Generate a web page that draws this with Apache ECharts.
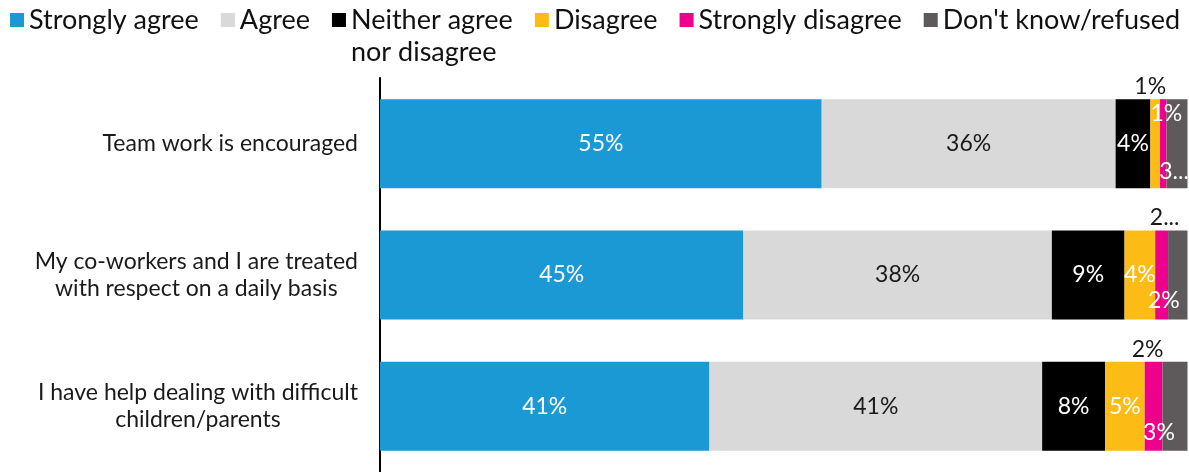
<!DOCTYPE html>
<html>
<head>
<meta charset="utf-8">
<script src="https://cdn.jsdelivr.net/npm/echarts@6/dist/echarts.min.js"></script>
<style>
  html, body { margin: 0; padding: 0; background: #fff; }
  #chart { width: 1189px; height: 472px; }
</style>
</head>
<body>
<div id="chart"></div>
<script>
// Survey statements (top to bottom)
const categories = [
  'Team work is encouraged',
  'My co-workers and I are treated\nwith respect on a daily basis',
  'I have help dealing with difficult\nchildren/parents'
];

// Response options, in stacking order
const responseNames = [
  'Strongly agree',
  'Agree',
  'Neither agree nor disagree',
  'Disagree',
  'Strongly disagree',
  "Don't know/refused"
];

// Share of respondents (%) per statement
const stronglyAgree    = [54.7, 45.0, 40.8];
const agree            = [36.4, 38.2, 41.2];
const neither          = [4.3, 9.0, 7.8];
const disagree         = [1.2, 3.8, 4.9];
const stronglyDisagree = [0.8, 1.6, 2.2];
const dontKnow         = [2.6, 2.4, 3.1];

const seriesValues = [stronglyAgree, agree, neither, disagree, stronglyDisagree, dontKnow];

const colors = ['#1A99D5', '#D9D9D9', '#000000', '#FDBC15', '#EC008C', '#5E5A5B'];
const insideLabelColors = ['#ffffff', '#1a1a1a', '#ffffff', '#ffffff', '#ffffff', '#ffffff'];

const FONT = 'Lato, "Noto Sans", sans-serif';

// Placement of the small segment labels that do not fit in the middle
// key: seriesIndex-rowIndex
const labelPlacement = {
  '3-0': { position: 'top', distance: 1, offset: [-5, 0], color: '#1a1a1a' },
  '4-0': { position: 'insideTop', distance: 3, offset: [3, 0] },
  '5-0': { position: 'insideBottom', distance: 5, offset: [-3, 0], cut: true },
  '4-1': { position: 'top', distance: 1, offset: [3, 0], color: '#1a1a1a', cut: true },
  '5-1': { position: 'insideBottom', distance: 7, offset: [-14, 0] },
  '4-2': { position: 'top', distance: 1, offset: [-6, 0], color: '#1a1a1a' },
  '5-2': { position: 'insideBottom', distance: 7, offset: [-16, 0] }
};

const series = responseNames.map(function (name, si) {
  return {
    name: name,
    type: 'bar',
    stack: 'total',
    barWidth: 89,
    itemStyle: { color: colors[si] },
    emphasis: { disabled: true },
    label: {
      show: true,
      position: 'inside',
      color: insideLabelColors[si],
      fontFamily: FONT,
      fontSize: 23,
      formatter: function (p) {
        const pl = labelPlacement[si + '-' + p.dataIndex];
        const n = Math.round(p.value);
        return pl && pl.cut ? n + '...' : n + '%';
      }
    },
    data: seriesValues[si].map(function (v, ri) {
      const pl = labelPlacement[si + '-' + ri];
      if (!pl) return v;
      const lab = { position: pl.position, distance: pl.distance, offset: pl.offset };
      if (pl.color) lab.color = pl.color;
      return { value: v, label: lab };
    })
  };
});

const chart = echarts.init(document.getElementById('chart'), null, { renderer: 'canvas' });

chart.setOption({
  animation: false,
  backgroundColor: '#ffffff',
  color: colors,
  legend: {
    left: 10,
    top: -28,
    width: 1300,
    padding: 0,
    icon: 'rect',
    itemWidth: 14,
    itemHeight: 14,
    itemGap: 22,
    selectedMode: false,
    textStyle: { fontFamily: FONT, fontSize: 27, color: '#111111', lineHeight: 32 },
    // the two-line entry keeps its first line level with the other entries
    formatter: function (name) {
      return name === 'Neither agree nor disagree' ? ' \nNeither agree\nnor disagree' : name;
    },
    data: responseNames
  },
  grid: { left: 380, right: 1.5, top: 78, height: 398, containLabel: false },
  xAxis: {
    type: 'value',
    min: 0,
    max: 100,
    show: false
  },
  yAxis: {
    type: 'category',
    data: categories,
    inverse: true,
    offset: 2,
    axisLine: { show: true, lineStyle: { color: '#000000', width: 2 } },
    axisTick: { show: false },
    splitLine: { show: false },
    axisLabel: {
      margin: 20,
      formatter: function (v) {
        return v.split('\n').map(function (l) { return '{c|' + l + '}'; }).join('\n');
      },
      rich: {
        c: { align: 'center', fontFamily: FONT, fontSize: 23, lineHeight: 27, color: '#1a1a1a' }
      }
    }
  },
  series: series
});
</script>
</body>
</html>
